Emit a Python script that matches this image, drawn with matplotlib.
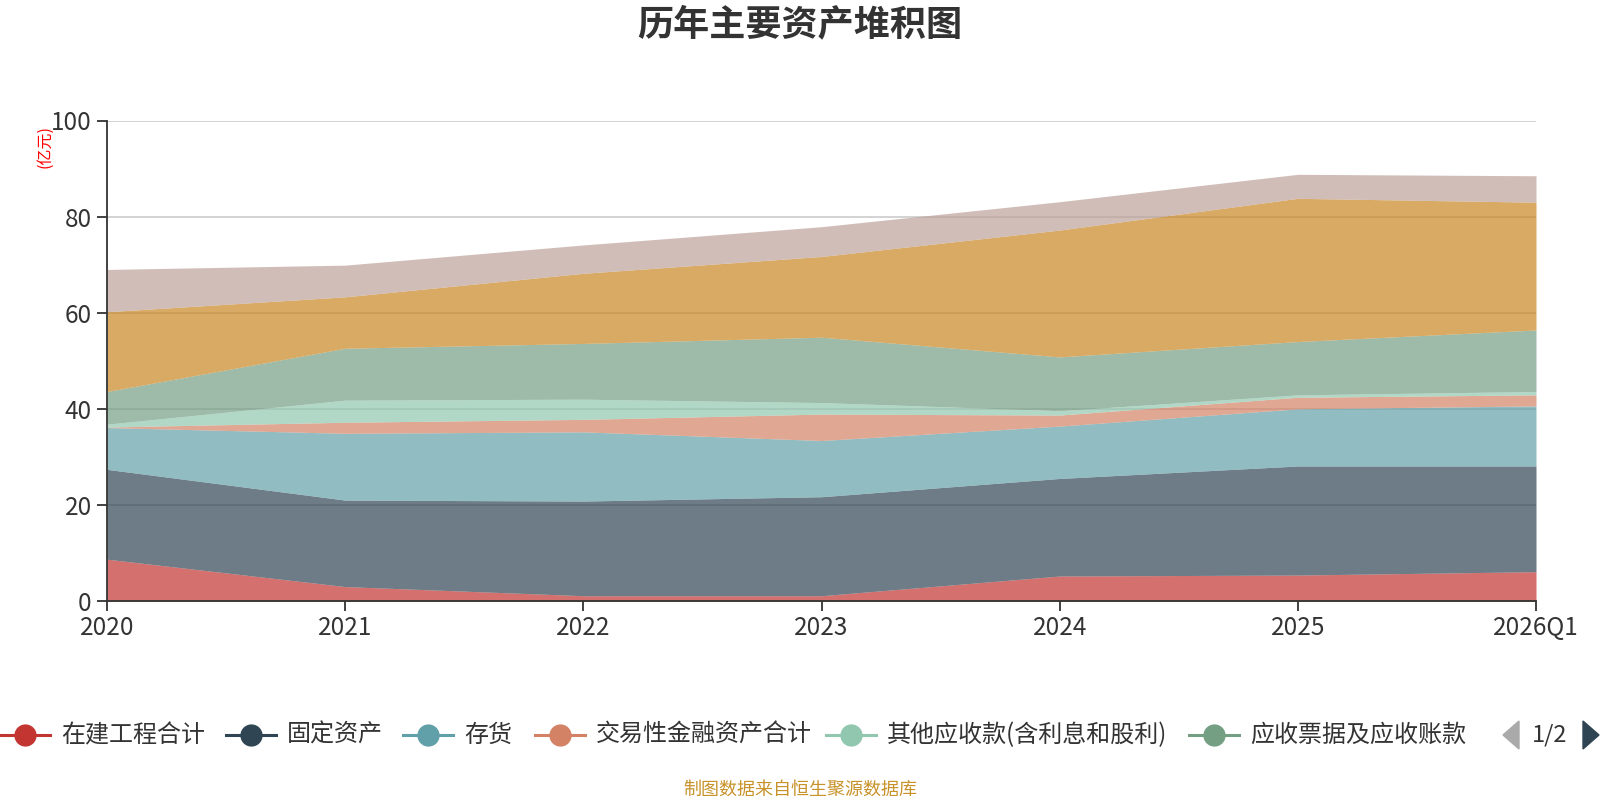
import matplotlib
matplotlib.use("Agg")
import numpy as np
import matplotlib.pyplot as plt
from matplotlib.patches import Polygon

plt.rcParams['font.family'] = ['Noto Sans CJK SC', 'DejaVu Sans']

# data (亿元)
years = ['2020', '2021', '2022', '2023', '2024', '2025', '2026Q1']
zaijian = [8.7, 3.0, 1.1, 1.1, 5.2, 5.4, 6.1]          # 在建工程合计
guding = [18.7, 18.0, 19.7, 20.6, 20.3, 22.7, 22.0]     # 固定资产
cunhuo = [8.7, 13.9, 14.4, 11.7, 10.9, 11.9, 12.5]      # 存货
jiaoyi = [0.1, 2.3, 2.6, 5.5, 2.3, 2.4, 2.3]            # 交易性金融资产合计
qita = [0.6, 4.6, 4.2, 2.4, 0.9, 0.5, 0.7]              # 其他应收款(含利息和股利)
yingshou = [6.8, 10.8, 11.6, 13.6, 11.2, 11.1, 12.8]    # 应收票据及应收账款
huobi = [16.6, 10.7, 14.6, 16.8, 26.4, 29.8, 26.6]      # 货币资金 (legend page 2)
changqi = [8.8, 6.6, 5.9, 6.2, 5.9, 5.0, 5.5]           # 长期股权投资 (legend page 2)

names = ['在建工程合计', '固定资产', '存货', '交易性金融资产合计',
         '其他应收款(含利息和股利)', '应收票据及应收账款', '货币资金', '长期股权投资']
series = [zaijian, guding, cunhuo, jiaoyi, qita, yingshou, huobi, changqi]
colors = ['#c23531', '#2f4554', '#61a0a8', '#d48265', '#91c7ae', '#749f83',
          '#ca8622', '#bda29a']

fig = plt.figure(figsize=(16, 8), dpi=100)
ax = fig.add_axes([107 / 1600, 1 - 601 / 800, 1429 / 1600, 480.5 / 800])

x = np.arange(len(years))
base = np.zeros(len(years))
for vals, c in zip(series, colors):
    top = base + np.array(vals)
    ax.fill_between(x, base, top, color=c, alpha=0.7, linewidth=0, zorder=2)
    base = top

ax.set_xlim(0, len(years) - 1)
ax.set_ylim(0, 100)
ax.set_yticks(range(0, 101, 20))
ax.set_xticks(x)
ax.set_xticklabels(years)
ax.grid(axis='y', color='#cccccc', linewidth=1.2, zorder=1)
ax.set_axisbelow(True)
for s in ['top', 'right']:
    ax.spines[s].set_visible(False)
for s in ['left', 'bottom']:
    ax.spines[s].set_color('#333333')
    ax.spines[s].set_linewidth(1.3)
ax.tick_params(axis='both', colors='#333333', labelsize=17.5, length=7, width=1.3, pad=3)
ax.tick_params(axis='y', pad=4)

fig.text(800 / 1600, 1 - 25 / 800, '历年主要资产堆积图', ha='center', va='center',
         fontsize=26, fontweight='bold', color='#333333')
fig.text(45 / 1600, 1 - 146 / 800, '(亿元)', ha='center', va='center',
         rotation=90, fontsize=11.5, color='red')
fig.text(800 / 1600, 1 - 790 / 800, '制图数据来自恒生聚源数据库', ha='center', va='center',
         fontsize=13, color='#c8922a')

# legend (page 1 of 2)
lg = fig.add_axes([0, 0, 1, 1], facecolor='none')
lg.set_xlim(0, 1600)
lg.set_ylim(800, 0)
lg.axis('off')
starts = [0, 226, 403, 535, 826, 1189]
ly = 735
for i, sx in enumerate(starts):
    lg.plot([sx, sx + 50], [ly, ly], color=colors[i], linewidth=2.2)
    lg.plot(sx + 25, ly, 'o', markersize=15, color=colors[i])
    lg.text(sx + 61, ly, names[i], ha='left', va='center', fontsize=17.3, color='#333333')

lg.add_patch(Polygon([[1519, 721], [1519, 749], [1503, 735]], closed=True, color='#aaaaaa'))
lg.text(1550, ly, '1/2', ha='center', va='center', fontsize=17, color='#333333')
lg.add_patch(Polygon([[1583, 721], [1583, 749], [1599, 735]], closed=True, color='#2f4554'))

fig.savefig('out.png', dpi=100)
